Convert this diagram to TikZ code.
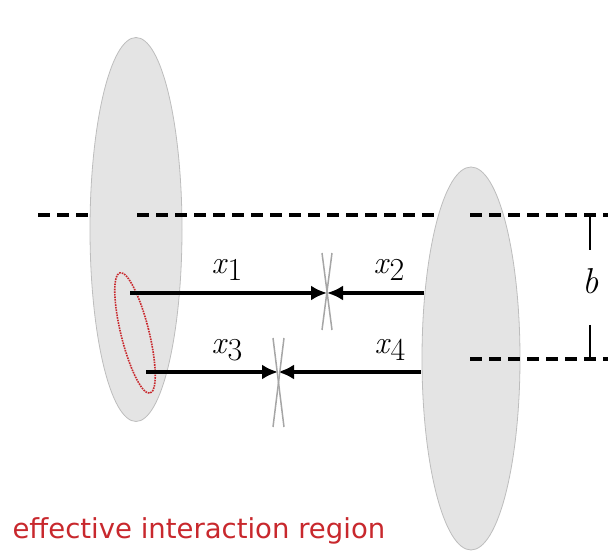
\documentclass[tikz,border=0pt]{standalone}
\usepackage{fontspec}
\usetikzlibrary{arrows.meta}
\newfontfamily\labelfont{DejaVu Sans}
\definecolor{discFill}{HTML}{E4E4E4}
\definecolor{discEdge}{HTML}{BDBDBD}
\definecolor{regionRed}{HTML}{C8282D}
\newcommand{\xlab}[1]{\textit{x}\raisebox{-7pt}{#1}}

\begin{document}
\begin{tikzpicture}[x=1pt,y=1pt,
  disc/.style={fill=discFill,draw=discEdge,line width=0.8pt},
  guide/.style={line width=3.2pt,dash pattern=on 12pt off 7pt},
  arr/.style={line width=3.2pt,-{Latex[length=16pt,width=15pt]}},
  cut/.style={gray!70,line width=1.5pt},
  dim/.style={line width=1.5pt},
  lab/.style={font=\fontsize{32}{34}\selectfont}]
  \useasboundingbox (0,0) rectangle (608,553);

  % the two discs
  \filldraw[disc] (136,323.5) ellipse (46 and 192);
  \filldraw[disc] (471,194.5) ellipse (49 and 191.5);
  \draw[regionRed,densely dotted,line width=1.6pt,rotate around={14:(135,220)}] (135,220) ellipse (14 and 62);

  % reference lines
  \coordinate (ua) at (38,338);  \coordinate (ub) at (88,338);
  \coordinate (uc) at (137,338); \coordinate (ud) at (440,338);
  \coordinate (ue) at (470,338); \coordinate (uf) at (608,338);
  \coordinate (la) at (470,194); \coordinate (lb) at (608,194);
  \draw[guide] (ua) -- (ub);
  \draw[guide] (uc) -- (ud);
  \draw[guide] (ue) -- (uf);
  \draw[guide] (la) -- (lb);

  % impact parameter
  \coordinate (bt) at (590,338); \coordinate (bu) at (590,303);
  \coordinate (bl) at (590,228); \coordinate (bd) at (590,194);
  \draw[dim,{Bar[width=10pt]}-] (bt) -- (bu);
  \draw[dim,-{Bar[width=10pt]}] (bl) -- (bd);
  \node[lab,font=\fontsize{36}{38}\selectfont] (b) at (591,272) {\textit{b}};

  % distances to the cut
  \coordinate (s1) at (130,260); \coordinate (m1) at (327,260); \coordinate (s2) at (424,260);
  \coordinate (s3) at (146,181); \coordinate (m2) at (278,181); \coordinate (s4) at (421,181);
  \draw[arr] (s1) -- (m1);
  \draw[arr] (s2) -- (m1);
  \draw[arr] (s3) -- (m2);
  \draw[arr] (s4) -- (m2);
  \draw[cut] (322,300) -- (332,223);
  \draw[cut] (332,300) -- (322,223);
  \draw[cut] (273,215) -- (284,126);
  \draw[cut] (284,215) -- (273,126);

  \node[lab] (x1) at (227,283) {\xlab{1}};
  \node[lab] (x2) at (389,283) {\xlab{2}};
  \node[lab] (x3) at (227,203) {\xlab{3}};
  \node[lab] (x4) at (390,203) {\xlab{4}};

  \node[regionRed,font=\labelfont\fontsize{27.5}{30}\selectfont,anchor=west] (region) at (9,22) {effective interaction region};
\end{tikzpicture}
\end{document}
